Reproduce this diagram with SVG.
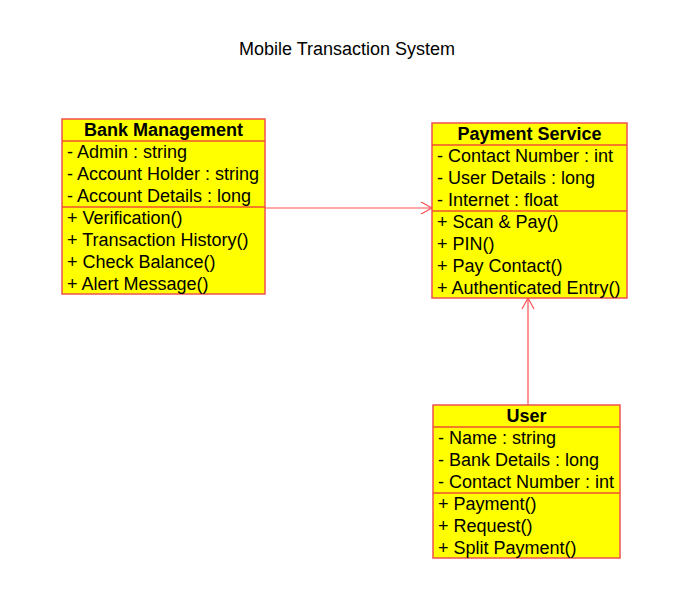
<svg xmlns="http://www.w3.org/2000/svg" width="694" height="607" viewBox="0 0 694 607">
<style>
.box{fill:#ffff00;stroke:#f05050;stroke-width:1.5}
.sep{stroke:#f05030;stroke-width:1.5}
text{font-family:"Liberation Sans",Arial,sans-serif;font-size:18px;fill:#000}
.hd{font-weight:bold;text-anchor:middle}
.conn{stroke:#ff5050;stroke-width:1.2;fill:none}
</style>
<defs>
<marker id="open" markerWidth="14" markerHeight="14" refX="12" refY="7" orient="auto" markerUnits="userSpaceOnUse">
<path d="M1,1 L12,7 L1,13" fill="none" stroke="#ff5050" stroke-width="1.2"/>
</marker>
</defs>
<rect width="694" height="607" fill="#fff"/>
<text x="347" y="55" text-anchor="middle">Mobile Transaction System</text>
<g id="connectors">
<line class="conn" x1="265" y1="208" x2="432" y2="208" marker-end="url(#open)"/>
<line class="conn" x1="528" y1="405" x2="528" y2="298" marker-end="url(#open)"/>
</g>
<g id="bank-management">
<rect class="box" x="62" y="119" width="203" height="175"/>
<line class="sep" x1="62" y1="141" x2="265" y2="141"/>
<line class="sep" x1="62" y1="207" x2="265" y2="207"/>
<text class="hd" x="163.5" y="136">Bank Management</text>
<text x="67" y="158">- Admin : string</text>
<text x="67" y="180">- Account Holder : string</text>
<text x="67" y="202">- Account Details : long</text>
<text x="67" y="224">+ Verification()</text>
<text x="67" y="246">+ Transaction History()</text>
<text x="67" y="268">+ Check Balance()</text>
<text x="67" y="290">+ Alert Message()</text>
</g>
<g id="payment-service">
<rect class="box" x="432" y="123" width="195" height="175"/>
<line class="sep" x1="432" y1="145" x2="627" y2="145"/>
<line class="sep" x1="432" y1="211" x2="627" y2="211"/>
<text class="hd" x="529.5" y="140">Payment Service</text>
<text x="437" y="162">- Contact Number : int</text>
<text x="437" y="184">- User Details : long</text>
<text x="437" y="206">- Internet : float</text>
<text x="437" y="228">+ Scan &amp; Pay()</text>
<text x="437" y="250">+ PIN()</text>
<text x="437" y="272">+ Pay Contact()</text>
<text x="437" y="294">+ Authenticated Entry()</text>
</g>
<g id="user">
<rect class="box" x="433" y="405" width="187" height="153"/>
<line class="sep" x1="433" y1="427" x2="620" y2="427"/>
<line class="sep" x1="433" y1="493" x2="620" y2="493"/>
<text class="hd" x="526.5" y="422">User</text>
<text x="438" y="444">- Name : string</text>
<text x="438" y="466">- Bank Details : long</text>
<text x="438" y="488">- Contact Number : int</text>
<text x="438" y="510">+ Payment()</text>
<text x="438" y="532">+ Request()</text>
<text x="438" y="554">+ Split Payment()</text>
</g>
</svg>
